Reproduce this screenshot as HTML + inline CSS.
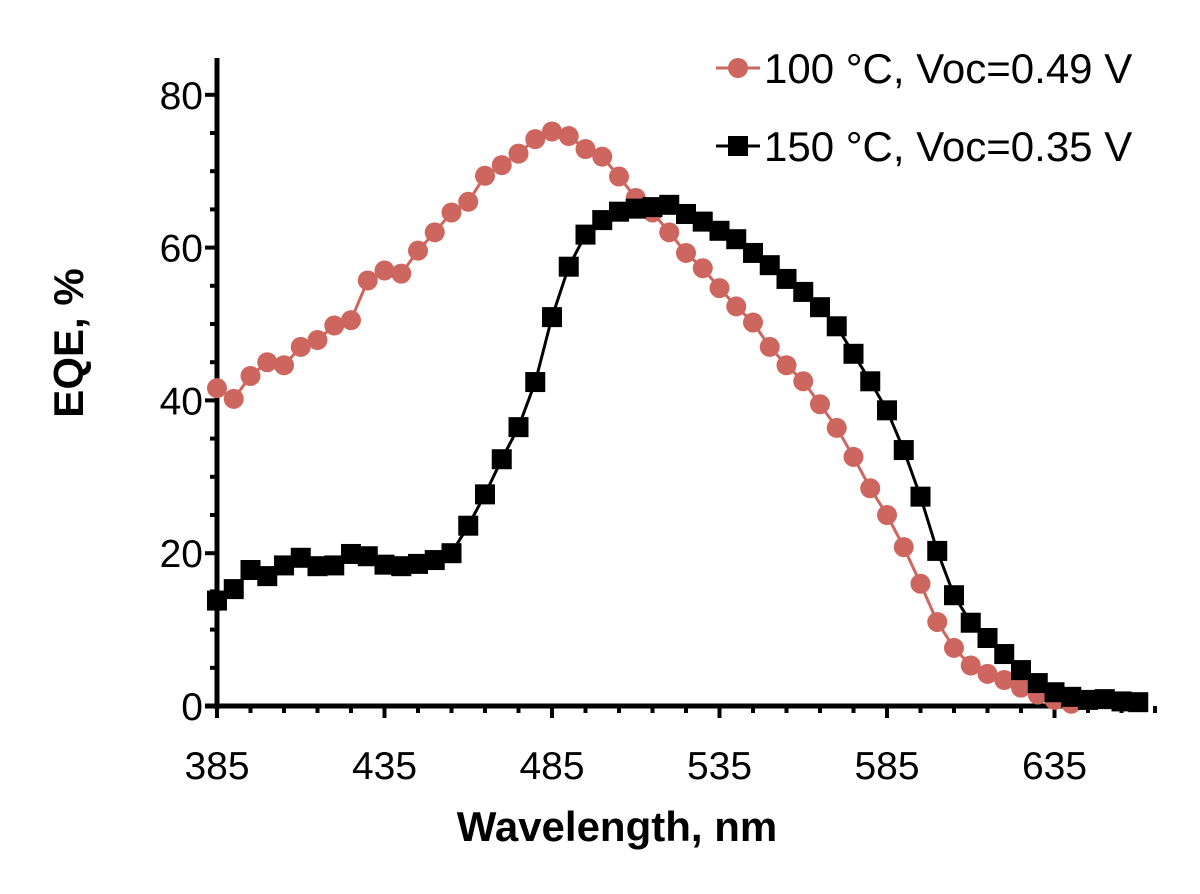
<!DOCTYPE html>
<html><head><meta charset="utf-8"><style>
html,body{margin:0;padding:0;background:#fff;}
svg text{font-family:"Liberation Sans",Arial,sans-serif;}
</style></head><body>
<svg id="chart" width="1200" height="889" viewBox="0 0 1200 889" xmlns="http://www.w3.org/2000/svg">
<g id="axes"></g><g id="series"></g>
<text x="617" y="841" font-size="42" font-weight="bold" text-anchor="middle">Wavelength, nm</text>
<text transform="translate(83,343) rotate(-90)" font-size="42" font-weight="bold" text-anchor="middle">EQE, %</text>
<g>
<g>
<line x1="716" y1="68" x2="760" y2="68" stroke="#cd665e" stroke-width="3"/>
<circle cx="738" cy="68" r="10" fill="#cd665e"/>
<text x="764" y="83" font-size="42">100 °C, Voc=0.49 V</text></g>
<g>
<line x1="716" y1="146" x2="760" y2="146" stroke="#000" stroke-width="3"/>
<rect x="728" y="136" width="20" height="20" fill="#000"/>
<text x="764" y="161" font-size="42">150 °C, Voc=0.35 V</text></g>
</g>
</svg>
<script>
const wavelengths100 = [385,390,395,400,405,410,415,420,425,430,435,440,445,450,455,460,465,470,475,480,485,490,495,500,505,510,515,520,525,530,535,540,545,550,555,560,565,570,575,580,585,590,595,600,605,610,615,620,625,630,635,640];
const eqe100 = [41.6,40.2,43.2,45.0,44.6,47.0,47.9,49.8,50.5,55.7,57.0,56.6,59.6,62.0,64.6,66.0,69.4,70.8,72.3,74.2,75.2,74.6,72.9,71.9,69.3,66.5,64.6,62.0,59.3,57.3,54.7,52.3,50.2,47.0,44.6,42.5,39.5,36.4,32.6,28.5,25.0,20.8,16.0,11.0,7.6,5.3,4.2,3.4,2.4,1.5,0.8,0.3];
const wavelengths150 = [385,390,395,400,405,410,415,420,425,430,435,440,445,450,455,460,465,470,475,480,485,490,495,500,505,510,515,520,525,530,535,540,545,550,555,560,565,570,575,580,585,590,595,600,605,610,615,620,625,630,635,640,645,650,655,660];
const eqe150 = [13.8,15.3,17.8,17.0,18.4,19.4,18.3,18.4,19.9,19.6,18.5,18.3,18.6,19.1,20.0,23.6,27.7,32.3,36.5,42.4,50.9,57.5,61.7,63.6,64.7,65.1,65.3,65.6,64.4,63.4,62.2,61.1,59.3,57.7,55.9,54.2,52.2,49.7,46.1,42.5,38.7,33.5,27.4,20.3,14.5,10.9,8.9,6.8,4.7,3.0,1.8,1.2,0.8,0.9,0.6,0.5];
const xTickLabels = [385,435,485,535,585,635];
const yTickLabels = [0,20,40,60,80];

const NS="http://www.w3.org/2000/svg";
const xs = v => 217 + (v-385)*3.35;
const ys = v => 706 - v*7.64;
const axes=document.getElementById('axes'), ser=document.getElementById('series');
function mk(tag,attrs,parent){const e=document.createElementNS(NS,tag);for(const k in attrs)e.setAttribute(k,attrs[k]);parent.appendChild(e);return e;}

let a=mk('line',{x1:217,y1:58,x2:217,y2:709,stroke:'#000','stroke-width':5},axes);


a=mk('line',{x1:205,y1:706,x2:1146,y2:706,stroke:'#000','stroke-width':5},axes);


for(let v=0;v<=84;v+=5){const major=v%20===0;const t=mk('line',{x1:major?205:210,x2:217,y1:ys(v),y2:ys(v),stroke:'#000','stroke-width':4},axes);

}
for(let w=385;w<=665;w+=10){const major=(w-385)%50===0;const t=mk('line',{x1:xs(w),x2:xs(w),y1:706,y2:major?718:713,stroke:'#000','stroke-width':4},axes);

}
yTickLabels.forEach(v=>{const t=mk('text',{x:203,y:ys(v)+14,'font-size':39,'text-anchor':'end'},axes);t.textContent=v;

});
xTickLabels.forEach(v=>{const t=mk('text',{x:xs(v),y:779,'font-size':39,'text-anchor':'middle'},axes);t.textContent=v;

});

function series(xa,ya,color,shape,name){
 const g=mk('g',{},ser);
 
 
 const pts=xa.map((w,i)=>xs(w)+','+ys(ya[i])).join(' ');
 mk('polyline',{points:pts,fill:'none',stroke:color,'stroke-width':3},g);
 xa.forEach((w,i)=>{let m;
  if(shape==='c') m=mk('circle',{cx:xs(w),cy:ys(ya[i]),r:10,fill:color},g);
  else m=mk('rect',{x:xs(w)-10,y:ys(ya[i])-10,width:20,height:20,fill:color},g);
  
  });
}
series(wavelengths100,eqe100,'#cd665e','c','series-100c');
series(wavelengths150,eqe150,'#000','s','series-150c');
</script>
</body></html>
